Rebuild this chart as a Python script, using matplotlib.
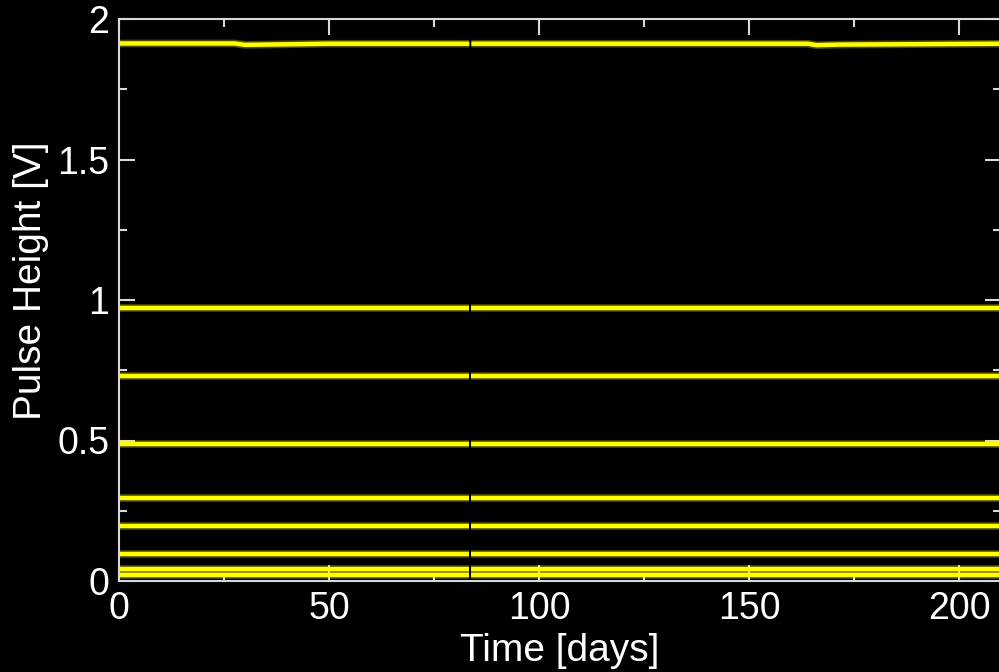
import numpy as np
import matplotlib
matplotlib.use("Agg")
import matplotlib.pyplot as plt
from matplotlib.ticker import MultipleLocator

plt.rcParams['font.family'] = ['Liberation Sans', 'DejaVu Sans']

# Pulse-height bands: nominal level of each band (V)
band_levels = [1.913, 0.973, 0.731, 0.489, 0.294, 0.196, 0.096, 0.042, 0.021]

# Days at which the band shapes are sampled
knot_days = [0, 27.5, 30, 50, 83.4, 83.9, 164, 166, 172, 210]
# The top band drifts slightly around day 30 and day 167
top_band = [1.913, 1.913, 1.908, 1.912, 1.912, 1.912, 1.912, 1.907, 1.909, 1.912]
# Data gap (no pulses recorded) between these days
gap_days = (83.4, 83.9)

fig = plt.figure(figsize=(9.99, 6.72), dpi=100, facecolor='black')
ax = fig.add_axes([119 / 999, 91 / 672, 882 / 999, 562 / 672], facecolor='black')

days = np.array(knot_days, dtype=float)
gap_at = np.searchsorted(days, gap_days[1])

for i, level in enumerate(band_levels):
    values = np.array(top_band if i == 0 else [level] * len(knot_days), dtype=float)
    x = np.insert(days, gap_at, np.nan)
    y = np.insert(values, gap_at, np.nan)
    ax.plot(x, y, color='#ffff00', lw=5.5, alpha=0.3, solid_capstyle='butt')
    ax.plot(x, y, color='#ffff00', lw=3.2, solid_capstyle='butt')

ax.set_xlim(0, 210)
ax.set_ylim(0, 2)
ax.xaxis.set_major_locator(MultipleLocator(50))
ax.xaxis.set_minor_locator(MultipleLocator(25))
ax.yaxis.set_major_locator(MultipleLocator(0.5))
ax.yaxis.set_minor_locator(MultipleLocator(0.25))
ax.set_yticks([0, 0.5, 1, 1.5, 2])
ax.set_yticklabels(['0', '0.5', '1', '1.5', '2'])

for side in ax.spines.values():
    side.set_color('#d8d8d8')
    side.set_linewidth(1.5)

ax.tick_params(which='both', direction='in', top=True, right=True,
               colors='#d8d8d8', labelcolor='white', labelsize=27, width=1.5)
ax.tick_params(which='major', length=11.5, pad=7)
ax.tick_params(which='minor', length=5.5)

ax.set_xlabel('Time [days]', color='white', fontsize=28)
ax.set_ylabel('Pulse Height [V]', color='white', fontsize=28)
ax.xaxis.set_label_coords(0.5, -0.092)
ax.yaxis.set_label_coords(-0.079, 0.534)

fig.savefig('out.png', dpi=100, facecolor='black')
